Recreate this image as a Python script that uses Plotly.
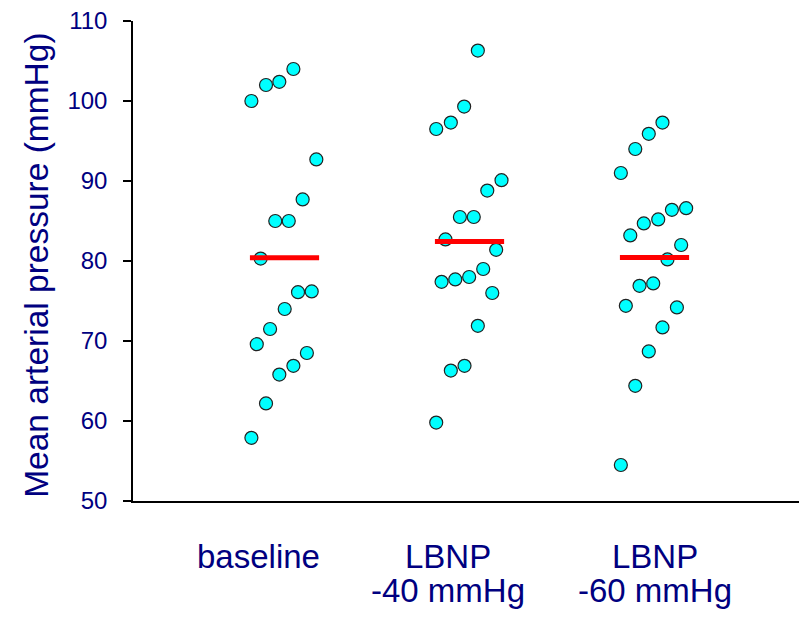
import numpy as np
import plotly.graph_objects as go

# Mean arterial pressure (mmHg) per subject, in each condition
groups = ["baseline", "LBNP -40", "LBNP -60"]
label_lines = [["baseline"], ["LBNP", "-40 mmHg"], ["LBNP", "-60 mmHg"]]

baseline = [104.0, 102.4, 102.0, 100.0, 92.7, 87.7, 85.0, 85.0, 80.3, 76.1,
            76.2, 74.0, 71.5, 69.6, 68.5, 66.9, 65.8, 62.2, 57.9]
lbnp40 = [106.3, 99.3, 97.3, 96.5, 90.1, 88.8, 85.5, 85.5, 82.7, 81.4,
          77.4, 77.7, 78.0, 79.0, 76.0, 71.9, 66.3, 66.9, 59.8]
lbnp60 = [97.3, 95.9, 94.0, 91.0, 86.6, 86.4, 85.2, 84.7, 83.2, 82.0,
          80.2, 76.9, 77.2, 74.4, 74.2, 71.7, 68.7, 64.4, 54.5]

# horizontal scatter of each dot around its group centre (fraction of group spacing)
baseline_jitter = [0.048, -0.028, -0.100, -0.179, 0.172, 0.098, -0.050, 0.023, -0.129, 0.073,
                   0.147, 0.001, -0.078, -0.150, 0.121, 0.048, -0.028, -0.100, -0.179]
lbnp40_jitter = [0.045, -0.029, -0.101, -0.180, 0.173, 0.096, -0.052, 0.023, -0.130, 0.144,
                 -0.151, -0.077, -0.002, 0.074, 0.123, 0.045, -0.101, -0.027, -0.180]
lbnp60_jitter = [0.043, -0.031, -0.104, -0.182, 0.171, 0.094, 0.020, -0.058, -0.131, 0.144,
                 0.070, -0.081, -0.007, -0.155, 0.121, 0.043, -0.031, -0.104, -0.182]

values = [baseline, lbnp40, lbnp60]
jitters = [baseline_jitter, lbnp40_jitter, lbnp60_jitter]
label_x = [0.857, 1.886, 3.003]

NAVY = "#000080"
FONT = "Arial, Liberation Sans, sans-serif"

fig = go.Figure()

for i, (vals, jit) in enumerate(zip(values, jitters)):
    centre = i + 1
    fig.add_trace(go.Scatter(
        x=[centre + j for j in jit], y=vals, mode="markers",
        marker=dict(size=13, color="#00FFFF", line=dict(color="#222222", width=1.2)),
        cliponaxis=False, showlegend=False, hoverinfo="y",
    ))

# group means drawn as red bars over the dots
for i, vals in enumerate(values):
    centre = i + 1
    m = float(np.mean(vals))
    fig.add_trace(go.Scatter(
        x=[centre - 0.187, centre + 0.187], y=[m, m], mode="lines",
        line=dict(color="#FF0000", width=5),
        showlegend=False, hoverinfo="y",
    ))

# category labels below the axis
for xpos, lines in zip(label_x, label_lines):
    for k, line in enumerate(lines):
        fig.add_annotation(
            x=xpos, xref="x", y=0, yref="paper", text=line, showarrow=False,
            xanchor="center", yanchor="top", yshift=-35 - 34 * k,
            font=dict(family=FONT, size=33, color=NAVY),
        )

fig.add_annotation(
    x=0, xref="paper", y=0.49, yref="paper", xshift=-96,
    text="Mean arterial pressure (mmHg)", textangle=-90, showarrow=False,
    xanchor="center", yanchor="middle",
    font=dict(family=FONT, size=33.5, color=NAVY),
)

fig.update_layout(
    width=799, height=618,
    margin=dict(l=133, r=0, t=21, b=117),
    paper_bgcolor="white", plot_bgcolor="white",
    xaxis=dict(range=[0.181, 3.781], showgrid=False, zeroline=False,
               showticklabels=False, ticks="", showline=True,
               linecolor="black", linewidth=1.5),
    yaxis=dict(range=[50, 110], tickvals=[50, 60, 70, 80, 90, 100, 110],
               showgrid=False, zeroline=False, showline=True,
               linecolor="black", linewidth=1.5,
               ticks="outside", ticklen=8, tickcolor="black", tickwidth=1.5,
               ticklabelstandoff=11,
               tickfont=dict(family=FONT, size=24, color=NAVY)),
)

fig.write_html("out.html")
